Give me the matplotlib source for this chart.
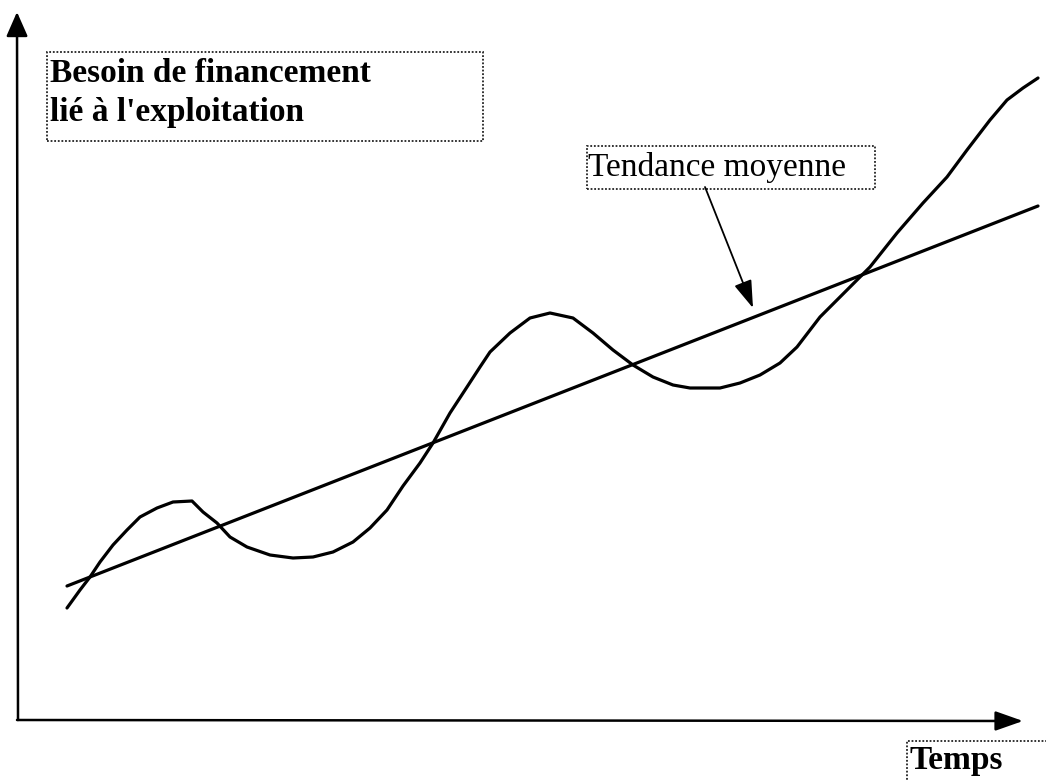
import matplotlib
matplotlib.use("Agg")
import matplotlib.pyplot as plt
from matplotlib.patches import Rectangle

# Data (arbitrary units: time t, financing need v)
curve_t = [49, 62, 72, 82, 95, 109, 122, 139, 155, 174, 185, 199, 212, 229, 252,
           275, 295, 315, 335, 352, 369, 385, 402, 415, 432, 449, 462, 472, 492,
           512, 532, 555, 575, 595, 615, 635, 655, 672, 702, 722, 742, 762, 779,
           802, 829, 852, 879, 905, 929, 949, 972, 989, 1005, 1020]
curve_v = [112, 130, 143, 158, 175, 190, 203, 212, 218, 219, 208, 197, 183, 173,
           165, 162, 163, 168, 178, 192, 210, 234, 257, 277, 307, 333, 353, 368,
           387, 402, 407, 402, 387, 370, 355, 343, 335, 332, 332, 337, 345, 357,
           373, 403, 430, 453, 487, 517, 543, 570, 600, 620, 632, 642]
trend_t = [49, 1020]
trend_v = [134, 514]

label_y = ["Besoin de financement", "lié à l'exploitation"]
label_x = "Temps"
label_trend = "Tendance moyenne"

fig = plt.figure(figsize=(10.46, 7.8), dpi=100)
ax = fig.add_axes([0, 0, 1, 1])
ax.set_xlim(-18, 1028)
ax.set_ylim(-60, 720)
ax.axis('off')

def px2v(py):
    return 720 - py

def px2t(px):
    return px - 18

# Axes arrows
ax.annotate("", xy=(px2t(17), px2v(12)), xytext=(px2t(18), px2v(720)),
            arrowprops=dict(arrowstyle="-|>,head_length=0.75,head_width=0.33",
                            mutation_scale=20, lw=1.8, color="black",
                            shrinkA=0, shrinkB=0))
ax.annotate("", xy=(px2t(1023), px2v(721)), xytext=(px2t(17), px2v(720)),
            arrowprops=dict(arrowstyle="-|>,head_length=0.85,head_width=0.3",
                            mutation_scale=20, lw=1.8, color="black",
                            shrinkA=0, shrinkB=0))

# Curves
ax.plot(curve_t, curve_v, color="black", lw=2.3, solid_capstyle="round",
        solid_joinstyle="round")
ax.plot(trend_t, trend_v, color="black", lw=2.3, solid_capstyle="round")

# Trend arrow
ax.annotate("", xy=(px2t(753), px2v(308)), xytext=(px2t(705), px2v(187)),
            arrowprops=dict(arrowstyle="-|>,head_length=0.85,head_width=0.28",
                            mutation_scale=20, lw=1.3, color="black",
                            shrinkA=0, shrinkB=0))

def dotted_box(x0, y0, x1, y1):
    r = Rectangle((px2t(x0), px2v(y1)), x1 - x0, y1 - y0, fill=False,
                  edgecolor="#222222", lw=1.3, linestyle=(0, (1, 1)))
    ax.add_patch(r)

dotted_box(47, 52, 483, 141)
dotted_box(587, 146, 875, 189)
dotted_box(907, 741, 1060, 800)

serif = ["Liberation Serif", "DejaVu Serif"]
fs = 24
ax.text(px2t(50), px2v(82), label_y[0], family=serif, fontsize=fs,
        fontweight="bold", va="baseline", ha="left")
ax.text(px2t(50), px2v(121), label_y[1], family=serif, fontsize=fs,
        fontweight="bold", va="baseline", ha="left")
ax.text(px2t(588), px2v(176), label_trend, family=serif, fontsize=fs,
        va="baseline", ha="left")
ax.text(px2t(910), px2v(769), label_x, family=serif, fontsize=fs,
        fontweight="bold", va="baseline", ha="left")

fig.savefig("out.png", dpi=100)
